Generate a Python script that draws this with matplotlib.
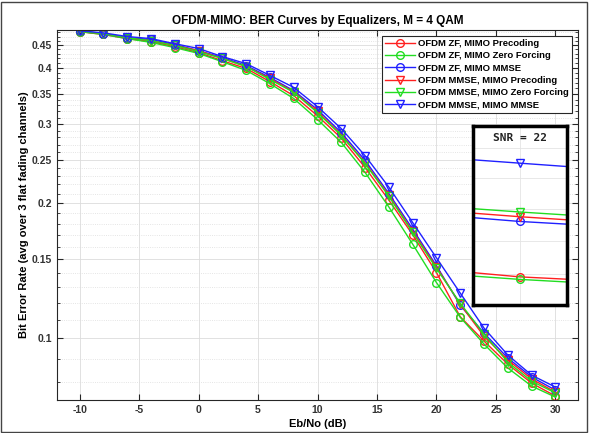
import matplotlib
matplotlib.use('Agg')
from matplotlib import pyplot as plt
from matplotlib.patches import Rectangle
from matplotlib.ticker import FixedLocator, NullFormatter

# Eb/No points (dB)
ebno = list(range(-10, 31, 2))

# BER, one list per curve
zf_prec = [0.482, 0.475, 0.465, 0.458, 0.446, 0.433, 0.415, 0.399, 0.373, 0.347, 0.313,
           0.279, 0.240, 0.203, 0.170, 0.140, 0.1116, 0.0985, 0.0875, 0.0794, 0.0743]
zf_zf = [0.482, 0.475, 0.465, 0.456, 0.444, 0.431, 0.413, 0.395, 0.369, 0.342, 0.307,
         0.273, 0.234, 0.196, 0.162, 0.133, 0.1113, 0.0970, 0.0858, 0.0782, 0.0739]
zf_mmse = [0.484, 0.477, 0.467, 0.463, 0.451, 0.437, 0.422, 0.405, 0.381, 0.356, 0.323,
           0.287, 0.249, 0.210, 0.175, 0.145, 0.1184, 0.1026, 0.0903, 0.0819, 0.0766]
mmse_prec = [0.482, 0.477, 0.467, 0.460, 0.449, 0.437, 0.420, 0.403, 0.379, 0.354, 0.320,
             0.284, 0.246, 0.208, 0.173, 0.144, 0.1190, 0.1010, 0.0894, 0.0811, 0.0758]
mmse_zf = [0.482, 0.477, 0.467, 0.460, 0.449, 0.435, 0.420, 0.403, 0.377, 0.353, 0.318,
           0.283, 0.245, 0.207, 0.172, 0.143, 0.1196, 0.1021, 0.0884, 0.0802, 0.0755]
mmse_mmse = [0.484, 0.479, 0.470, 0.465, 0.453, 0.442, 0.424, 0.409, 0.385, 0.362, 0.328,
             0.293, 0.255, 0.217, 0.181, 0.151, 0.126, 0.1053, 0.0917, 0.0827, 0.0778]

series = [zf_prec, zf_zf, zf_mmse, mmse_prec, mmse_zf, mmse_mmse]
labels = ['OFDM ZF, MIMO Precoding', 'OFDM ZF, MIMO Zero Forcing', 'OFDM ZF, MIMO MMSE',
          'OFDM MMSE, MIMO Precoding', 'OFDM MMSE, MIMO Zero Forcing', 'OFDM MMSE, MIMO MMSE']
colors = ['#ff2020', '#22dd22', '#2020ff', '#ff2020', '#22dd22', '#2020ff']
markers = ['o', 'o', 'o', 'v', 'v', 'v']

y_ticks = [0.1, 0.15, 0.2, 0.25, 0.3, 0.35, 0.4, 0.45]
y_tick_labels = ['0.1', '0.15', '0.2', '0.25', '0.3', '0.35', '0.4', '0.45']
x_ticks = [-10, -5, 0, 5, 10, 15, 20, 25, 30]

plt.rcParams['font.family'] = ['Liberation Sans', 'DejaVu Sans']
plt.rcParams['font.weight'] = 'bold'
plt.rcParams['axes.unicode_minus'] = False

fig = plt.figure(figsize=(5.89, 4.33), dpi=100)
ax = fig.add_axes([0.0968, 0.0762, 0.8845, 0.8545])

for s, lab, c, m in zip(series, labels, colors, markers):
	ax.plot(ebno, s, color=c, marker=m, markersize=5.5, markerfacecolor='none',
	        markeredgewidth=1.0, linewidth=1.0, label=lab)

ax.set_yscale('log')
ax.set_xlim(-11.9, 31.9)
ax.set_ylim(0.0728, 0.486)

ax.yaxis.set_major_locator(FixedLocator(y_ticks))
ax.set_yticklabels(y_tick_labels)
minor = [v / 100 for v in range(7, 49) if v % 5 != 0]
ax.yaxis.set_minor_locator(FixedLocator(minor))
ax.yaxis.set_minor_formatter(NullFormatter())
ax.set_xticks(x_ticks)

ax.grid(True, which='major', color='#dcdcdc', linewidth=0.6)
ax.grid(True, which='minor', axis='y', color='#dcdcdc', linewidth=0.6, linestyle=':')

ax.tick_params(which='both', direction='in', top=True, right=True, colors='#262626',
               labelsize=7.5, labelcolor='#333333')
ax.tick_params(which='major', length=4)
ax.tick_params(which='minor', length=2)
for sp in ax.spines.values():
	sp.set_color('#262626')
	sp.set_linewidth(0.8)

ax.set_title('OFDM-MIMO: BER Curves by Equalizers, M = 4 QAM', fontsize=8.5,
             fontweight='bold', pad=4)
ax.set_xlabel('Eb/No (dB)', fontsize=8, fontweight='bold', labelpad=3)
ax.set_ylabel('Bit Error Rate (avg over 3 flat fading channels)', fontsize=8,
              fontweight='bold', labelpad=2)

leg = ax.legend(loc='upper right', fontsize=6.8, handlelength=3.2, borderaxespad=0.6,
                labelspacing=0.35, handletextpad=0.3, borderpad=0.35, fancybox=False,
                framealpha=1, edgecolor='#262626')
leg.get_frame().set_linewidth(0.8)

# zoomed inset around SNR = 22
ins = fig.add_axes([0.803, 0.2956, 0.1596, 0.4134])
for s, c, m in zip(series, colors, markers):
	ins.plot(ebno, s, color=c, marker=m, markersize=5.5, markerfacecolor='none',
	         markeredgewidth=1.0, linewidth=1.0)
ins.set_yscale('log')
ins.set_xlim(21.96, 22.04)
ins.set_ylim(0.1083, 0.1311)
ins.set_xticks([22])
ins.yaxis.set_major_locator(FixedLocator([0.112, 0.116, 0.120, 0.124, 0.128]))
ins.yaxis.set_minor_locator(FixedLocator([]))
ins.grid(True, color='#e4e4e4', linewidth=0.6)
ins.tick_params(which='both', length=0, labelbottom=False, labelleft=False)
for sp in ins.spines.values():
	sp.set_color('black')
	sp.set_linewidth(2.5)
ins.text(0.5, 0.935, 'SNR = 22', transform=ins.transAxes, ha='center', va='center',
         fontsize=8, fontweight='bold', family='DejaVu Sans Mono', color='#222222')

# outer frame of the screenshot
fig.patches.append(Rectangle((0.002, 0.003), 0.995, 0.993, transform=fig.transFigure,
                             fill=False, edgecolor='#444444', linewidth=1.0))

fig.savefig('out.png', dpi=100)
